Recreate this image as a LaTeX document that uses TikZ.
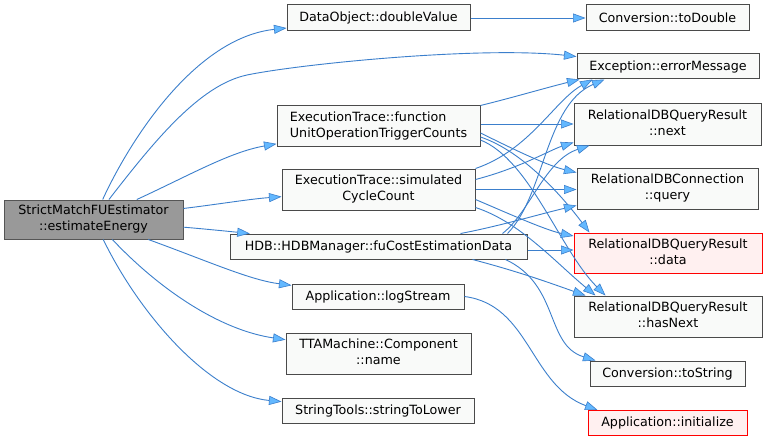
\documentclass[tikz,border=0pt]{standalone}
\usepackage{fontspec}
\setmainfont{DejaVu Sans}
\usetikzlibrary{arrows.meta,calc}
\definecolor{edgec}{HTML}{3B7FCC}
\definecolor{arrc}{HTML}{63B8FF}
\definecolor{nfill}{HTML}{F9FAF9}
\definecolor{nborder}{HTML}{4A4A4A}
\definecolor{rootfill}{HTML}{999999}
\definecolor{rootborder}{HTML}{555555}
\definecolor{redfill}{HTML}{FFF0F0}
\definecolor{redborder}{HTML}{FF0000}
\newcommand{\dxlab}[2]{\begin{tabular}{@{}l@{}}#1\\\multicolumn{1}{@{}c@{}}{#2}\end{tabular}}
\begin{document}
\begin{tikzpicture}[x=1pt,y=-1pt,
  box/.style={draw=nborder,fill=nfill,line width=1pt,rectangle,inner sep=0pt,align=center,font=\fontsize{12.7}{16}\selectfont},
  rootbox/.style={box,fill=rootfill,draw=rootborder},
  redbox/.style={box,fill=redfill,draw=redborder},
  call/.style={draw=edgec,line width=0.9pt,-{Triangle[length=12.5pt,width=9pt,fill=arrc,line width=0.6pt]}}
]
\fill[white] (0,0) rectangle (767,441);
\useasboundingbox (0,0) rectangle (767,441);
% left column
\node[rootbox,minimum width=179pt,minimum height=39pt] (root) at (93.5,219.5) {\dxlab{StrictMatchFUEstimator}{::estimateEnergy}};
\node[box,minimum width=183pt,minimum height=26pt] (dv) at (378.5,18) {DataObject::doubleValue};
\node[box,minimum width=203pt,minimum height=40pt] (fn) at (378.5,126) {\dxlab{ExecutionTrace::function}{UnitOperationTriggerCounts}};
\node[box,minimum width=193pt,minimum height=41pt] (sim) at (378.5,189.5) {\dxlab{ExecutionTrace::simulated}{CycleCount}};
\node[box,minimum width=297pt,minimum height=25pt] (hdb) at (378.5,246.5) {HDB::HDBManager::fuCostEstimationData};
\node[box,minimum width=172pt,minimum height=25pt] (log) at (378,296.5) {Application::logStream};
\node[box,minimum width=185pt,minimum height=41pt] (tta) at (378.5,353.5) {\dxlab{TTAMachine::Component}{::name}};
\node[box,minimum width=192pt,minimum height=25pt] (stl) at (378,410.5) {StringTools::stringToLower};
% right column
\node[box,minimum width=163pt,minimum height=26pt] (td) at (667.5,18) {Conversion::toDouble};
\node[box,minimum width=182pt,minimum height=25pt] (em) at (668,66.5) {Exception::errorMessage};
\node[box,minimum width=187pt,minimum height=41pt] (nx) at (667.5,124.5) {\dxlab{RelationalDBQueryResult}{::next}};
\node[box,minimum width=181pt,minimum height=41pt] (qr) at (667.5,188.5) {\dxlab{RelationalDBConnection}{::query}};
\node[redbox,minimum width=188pt,minimum height=40pt] (da) at (668,253) {\dxlab{RelationalDBQueryResult}{::data}};
\node[box,minimum width=188pt,minimum height=41pt] (hn) at (668,316.5) {\dxlab{RelationalDBQueryResult}{::hasNext}};
\node[box,minimum width=155pt,minimum height=25pt] (ts) at (667.5,373.5) {Conversion::toString};
\node[redbox,minimum width=159pt,minimum height=25pt] (ai) at (667.5,423) {Application::initialize};
% root calls
\draw[call] (root) .. controls (130,140) and (195,38) .. (dv);
\draw[call] (root) .. controls (155,140) and (200,85) .. (247,75) .. controls (300,64) and (480,46) .. (em);
\draw[call] (root) .. controls (190,175) and (230,152) .. (fn);
\draw[call] (root) .. controls (220,204) and (250,199) .. (sim);
\draw[call] (root) .. controls (205,229) and (225,231) .. (hdb);
\draw[call] (root) .. controls (210,262) and (250,280) .. (log);
\draw[call] (root) .. controls (160,290) and (220,330) .. (tta);
\draw[call] (root) .. controls (140,315) and (210,395) .. (stl);
\draw[call] (dv) -- (td);
% functionUnitOperationTriggerCounts
\coordinate (fnA) at ($(fn.east)+(0,-2)$);
\draw[call] (fn.north east) .. controls (515,97) and (545,88) .. ($(em.south west)+(3,0)$);
\draw[call] (fnA) -- (fnA -| nx.west);
\draw[call] ($(fn.east)+(0,7)$) .. controls (505,145) and (545,165) .. ($(qr.west)+(0,-16)$);
\draw[call] ($(fn.east)+(0,11)$) .. controls (525,152) and (565,200) .. ($(da.north west)+(16,0)$);
\draw[call] ($(fn.east)+(0,14)$) .. controls (530,160) and (560,250) .. ($(hn.north west)+(32,0)$);
% simulatedCycleCount
\draw[call] (sim.north east) .. controls (530,150) and (555,100) .. ($(em.south west)+(16,0)$);
\draw[call] ($(sim.east)+(0,-10)$) .. controls (520,168) and (550,150) .. ($(nx.south west)+(0,-3)$);
\draw[call] (sim.east) -- (sim.east -| qr.west);
\draw[call] ($(sim.east)+(0,10)$) .. controls (505,212) and (545,230) .. ($(da.west)+(0,-17)$);
\draw[call] ($(sim.east)+(0,18)$) .. controls (520,222) and (555,262) .. ($(hn.north west)+(22,0)$);
% fuCostEstimationData
\coordinate (hdA) at ($(hdb.east)+(0,3.5)$);
\draw[call] ($(hdb.north east)+(-20,0)$) .. controls (545,195) and (545,105) .. ($(em.south west)+(28,0)$);
\draw[call] ($(hdb.north east)+(-25,0)$) .. controls (530,212) and (545,160) .. ($(nx.south west)+(16,0)$);
\draw[call] ($(hdb.north)+(82,0)$) .. controls (500,226) and (540,214) .. ($(qr.south west)+(0,-4)$);
\draw[call] (hdA) -- (hdA -| da.west);
\draw[call] ($(hdb.south)+(94,0)$) .. controls (520,272) and (550,283) .. ($(hn.north west)+(12,0)$);
\draw[call] ($(hdb.south)+(127,0)$) .. controls (560,285) and (545,345) .. ($(ts.north west)+(6,0)$);
% logStream
\draw[call] (log.east) .. controls (530,305) and (530,385) .. ($(ai.north west)+(10,0)$);
\end{tikzpicture}
\end{document}
